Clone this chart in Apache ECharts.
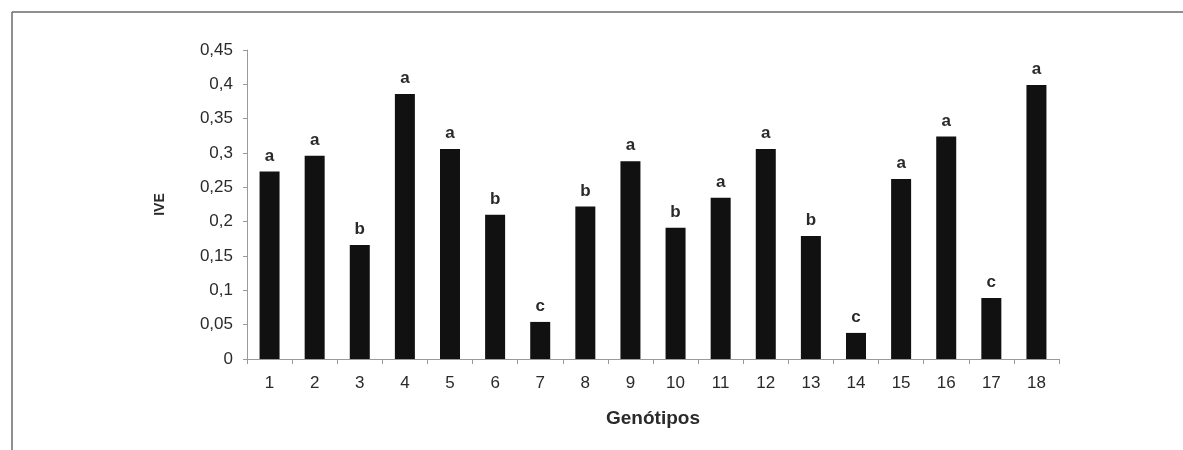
<!DOCTYPE html>
<html>
<head>
<meta charset="utf-8">
<script src="https://cdn.jsdelivr.net/npm/echarts@6/dist/echarts.min.js"></script>
<style>
  html, body { margin: 0; padding: 0; background: #fff; }
  #chart { width: 1183px; height: 450px; }
</style>
</head>
<body>
<div id="chart"></div>
<script>
// Genotypes on the x axis
const genotypes = ['1','2','3','4','5','6','7','8','9','10','11','12','13','14','15','16','17','18'];
// IVE value per genotype
const iveValues = [0.273, 0.296, 0.166, 0.386, 0.306, 0.210, 0.054, 0.222, 0.288, 0.191, 0.235, 0.306, 0.179, 0.038, 0.262, 0.324, 0.089, 0.399];
// Significance letters shown above each bar
const groupLetters = ['a','a','b','a','a','b','c','b','a','b','a','a','b','c','a','a','c','a'];

const chart = echarts.init(document.getElementById('chart'), null, { renderer: 'canvas' });
const font = 'Liberation Sans, Arial, sans-serif';

chart.setOption({
  animation: false,
  backgroundColor: '#ffffff',
  grid: { left: 247, right: 124, top: 50, bottom: 91, containLabel: false },
  graphic: [
    { type: 'line', shape: { x1: 12, y1: 12, x2: 1183, y2: 12 }, style: { stroke: '#6a6a6a', lineWidth: 1.5 } },
    { type: 'line', shape: { x1: 12, y1: 12, x2: 12, y2: 450 }, style: { stroke: '#6a6a6a', lineWidth: 1.5 } }
  ],
  xAxis: {
    type: 'category',
    data: genotypes,
    name: 'Genótipos',
    nameLocation: 'middle',
    nameGap: 50,
    nameTextStyle: { fontFamily: font, fontSize: 19, fontWeight: 'bold', color: '#2a2a2a' },
    axisLine: { lineStyle: { color: '#9a9a9a', width: 1 } },
    axisTick: { show: true, alignWithLabel: false, length: 5, lineStyle: { color: '#9a9a9a' } },
    axisLabel: { fontFamily: font, fontSize: 17, color: '#2a2a2a', margin: 16 }
  },
  yAxis: {
    type: 'value',
    min: 0,
    max: 0.45,
    interval: 0.05,
    name: 'IVE',
    nameLocation: 'middle',
    nameGap: 80,
    nameRotate: 90,
    nameTextStyle: { fontFamily: font, fontSize: 14, fontWeight: 'bold', color: '#2a2a2a' },
    splitLine: { show: false },
    axisLine: { show: true, lineStyle: { color: '#9a9a9a', width: 1 } },
    axisTick: { show: true, length: 4, lineStyle: { color: '#9a9a9a' } },
    axisLabel: {
      fontFamily: font, fontSize: 17, color: '#2a2a2a', margin: 14,
      formatter: v => (Math.round(v * 100) / 100).toString().replace('.', ',')
    }
  },
  series: [{
    type: 'bar',
    data: iveValues,
    barWidth: 20,
    itemStyle: { color: '#111111' },
    label: {
      show: true,
      position: 'top',
      distance: 7,
      fontFamily: font,
      fontSize: 17,
      fontWeight: 'bold',
      color: '#2a2a2a',
      formatter: p => groupLetters[p.dataIndex]
    }
  }]
});
</script>
</body>
</html>
